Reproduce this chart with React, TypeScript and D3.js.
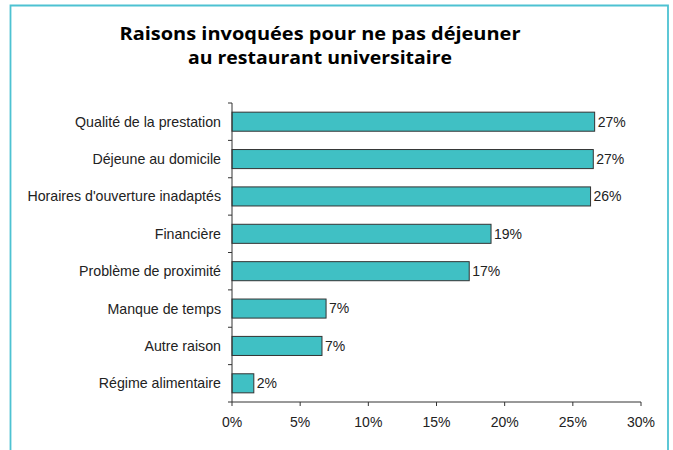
import React from "react";
import * as d3 from "d3";

const categories = [
  "Qualité de la prestation",
  "Déjeune au domicile",
  "Horaires d'ouverture inadaptés",
  "Financière",
  "Problème de proximité",
  "Manque de temps",
  "Autre raison",
  "Régime alimentaire",
];
const values = [26.6, 26.5, 26.3, 19.0, 17.4, 6.9, 6.6, 1.6];
const valueLabels = ["27%", "27%", "26%", "19%", "17%", "7%", "7%", "2%"];
const xTicks = [0, 5, 10, 15, 20, 25, 30];
const titleLines = ["Raisons invoquées pour ne pas déjeuner", "au restaurant universitaire"];
const titleWidths = [401, 264];

export default function App() {
  const W = 673, H = 450;
  const left = 232, right = 641, top = 103, bottom = 402;
  const x = d3.scaleLinear().domain([0, 30]).range([left, right]);
  const y = d3.scaleBand<string>().domain(categories).range([top, bottom]).paddingInner(0.49).paddingOuter(0.245);
  const band = (bottom - top) / categories.length;
  const font = "Liberation Sans, Arial, sans-serif";
  const tfont = "Open Sans, sans-serif";
  return (
    <svg width={W} height={H} style={{ position: "absolute", left: 0, top: 0 }}>
      <rect x={0} y={0} width={W} height={H} fill="#fff" />
      <path d={`M10.5,${H + 2} V5.5 H668 V${H + 2}`} fill="none" stroke="#4DC2D2" strokeWidth={1.8} />
      {titleLines.map((t, i) => (
        <text
          key={i}
          x={320}
          y={39.5 + i * 24.5}
          textAnchor="middle"
          fontFamily={tfont}
          fontWeight="bold"
          fontSize={18.5}
          fill="#000"
          textLength={titleWidths[i]}
          lengthAdjust="spacingAndGlyphs"
        >
          {t}
        </text>
      ))}
      {categories.map((c, i) => (
        <g key={c}>
          <rect x={x(0)} y={y(c)!} width={x(values[i]) - x(0)} height={y.bandwidth()} fill="#40C0C4" stroke="#333" strokeWidth={1} />
          <text x={x(values[i]) + 3} y={y(c)! + y.bandwidth() / 2} dy="0.35em" fontFamily={font} fontSize={14} fill="#222">
            {valueLabels[i]}
          </text>
          <text x={221} y={y(c)! + y.bandwidth() / 2} dy="0.35em" textAnchor="end" fontFamily={font} fontSize={14.2} fill="#222">
            {c}
          </text>
        </g>
      ))}
      <line x1={left} x2={left} y1={top} y2={bottom} stroke="#333" strokeWidth={1} />
      {d3.range(categories.length + 1).map((i) => (
        <line key={i} x1={left - 4} x2={left} y1={top + i * band} y2={top + i * band} stroke="#333" strokeWidth={1} />
      ))}
      <line x1={left} x2={right} y1={bottom} y2={bottom} stroke="#333" strokeWidth={1} />
      {xTicks.map((t) => (
        <g key={t}>
          <line x1={x(t)} x2={x(t)} y1={bottom} y2={bottom + 4} stroke="#333" strokeWidth={1} />
          <text x={x(t)} y={bottom + 20} dy="0.35em" textAnchor="middle" fontFamily={font} fontSize={14} fill="#222">
            {t}%
          </text>
        </g>
      ))}
    </svg>
  );
}
